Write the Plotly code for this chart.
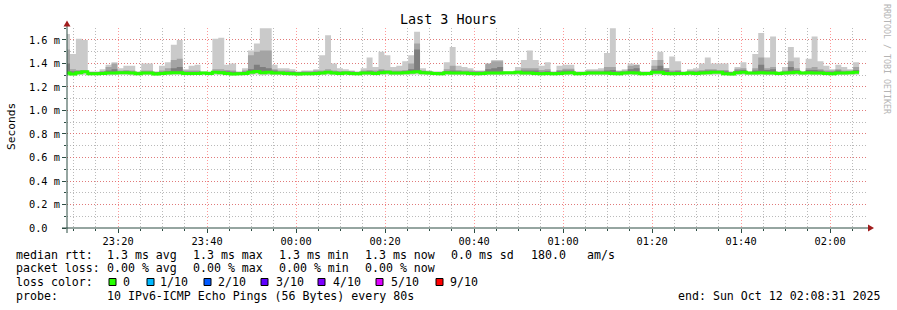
import plotly.graph_objects as go
import pandas as pd

# ---------------- data (ms) ----------------
top = [1.65, 1.48, 1.61, 1.60, 1.33, 1.33, 1.35, 1.39, 1.41, 1.36,
       1.38, 1.38, 1.33, 1.40, 1.40, 1.33, 1.38, 1.41, 1.56, 1.60,
       1.35, 1.38, 1.39, 1.33, 1.33, 1.61, 1.62, 1.39, 1.40, 1.33,
       1.36, 1.51, 1.57, 1.70, 1.70, 1.39, 1.36, 1.36, 1.35, 1.33,
       1.34, 1.34, 1.35, 1.47, 1.64, 1.40, 1.36, 1.35, 1.34, 1.33,
       1.36, 1.45, 1.37, 1.50, 1.47, 1.37, 1.38, 1.42, 1.47, 1.67,
       1.36, 1.34, 1.33, 1.33, 1.41, 1.54, 1.38, 1.37, 1.36, 1.34,
       1.34, 1.39, 1.43, 1.43, 1.33, 1.33, 1.37, 1.43, 1.51, 1.43,
       1.38, 1.41, 1.33, 1.38, 1.39, 1.39, 1.33, 1.33, 1.35, 1.35,
       1.36, 1.49, 1.70, 1.34, 1.35, 1.40, 1.39, 1.33, 1.33, 1.43,
       1.50, 1.36, 1.46, 1.42, 1.33, 1.35, 1.36, 1.40, 1.45, 1.40,
       1.40, 1.40, 1.33, 1.37, 1.41, 1.33, 1.48, 1.66, 1.45, 1.63,
       1.33, 1.37, 1.54, 1.45, 1.33, 1.44, 1.63, 1.42, 1.38, 1.35,
       1.39, 1.37, 1.35, 1.41]

p9 = [1.52, 1.35, 1.345, 1.345, 1.33, 1.33, 1.335, 1.37, 1.40, 1.34,
      1.345, 1.34, 1.33, 1.34, 1.34, 1.33, 1.34, 1.36, 1.43, 1.44,
      1.34, 1.34, 1.34, 1.33, 1.33, 1.35, 1.35, 1.345, 1.34, 1.33,
      1.34, 1.47, 1.50, 1.51, 1.51, 1.35, 1.34, 1.34, 1.335, 1.33,
      1.335, 1.335, 1.34, 1.34, 1.35, 1.34, 1.335, 1.335, 1.335, 1.33,
      1.34, 1.345, 1.34, 1.35, 1.345, 1.34, 1.34, 1.345, 1.40, 1.57,
      1.34, 1.335, 1.33, 1.33, 1.35, 1.38, 1.345, 1.34, 1.34, 1.335,
      1.335, 1.40, 1.42, 1.42, 1.33, 1.33, 1.34, 1.36, 1.36, 1.36,
      1.345, 1.35, 1.33, 1.345, 1.355, 1.355, 1.33, 1.33, 1.34, 1.34,
      1.34, 1.37, 1.37, 1.335, 1.34, 1.38, 1.39, 1.33, 1.33, 1.38,
      1.43, 1.36, 1.34, 1.345, 1.33, 1.34, 1.34, 1.345, 1.35, 1.35,
      1.345, 1.345, 1.33, 1.355, 1.36, 1.33, 1.36, 1.45, 1.36, 1.37,
      1.33, 1.34, 1.42, 1.36, 1.33, 1.36, 1.37, 1.35, 1.34, 1.34,
      1.35, 1.34, 1.34, 1.37]

p8 = [1.40, 1.335, 1.335, 1.335, 1.325, 1.325, 1.33, 1.34, 1.35, 1.33,
      1.335, 1.33, 1.325, 1.33, 1.33, 1.325, 1.33, 1.335, 1.36, 1.37,
      1.33, 1.33, 1.33, 1.325, 1.325, 1.335, 1.335, 1.335, 1.33, 1.325,
      1.33, 1.35, 1.39, 1.37, 1.36, 1.34, 1.33, 1.33, 1.33, 1.325,
      1.325, 1.325, 1.33, 1.33, 1.335, 1.33, 1.33, 1.33, 1.33, 1.325,
      1.33, 1.335, 1.33, 1.34, 1.335, 1.33, 1.33, 1.335, 1.35, 1.52,
      1.335, 1.33, 1.325, 1.325, 1.335, 1.34, 1.335, 1.33, 1.33, 1.33,
      1.33, 1.35, 1.36, 1.37, 1.325, 1.325, 1.33, 1.34, 1.34, 1.34,
      1.33, 1.335, 1.325, 1.335, 1.34, 1.34, 1.325, 1.325, 1.33, 1.33,
      1.33, 1.34, 1.345, 1.33, 1.33, 1.35, 1.36, 1.325, 1.325, 1.35,
      1.38, 1.345, 1.33, 1.335, 1.325, 1.33, 1.33, 1.335, 1.34, 1.34,
      1.335, 1.335, 1.325, 1.34, 1.345, 1.325, 1.34, 1.39, 1.345, 1.35,
      1.325, 1.33, 1.37, 1.345, 1.325, 1.345, 1.345, 1.34, 1.33, 1.33,
      1.34, 1.33, 1.33, 1.345]

median = [1.320, 1.310, 1.322, 1.330, 1.312, 1.312, 1.315, 1.318, 1.318, 1.322,
          1.322, 1.318, 1.312, 1.318, 1.318, 1.310, 1.315, 1.318, 1.322, 1.322,
          1.315, 1.315, 1.315, 1.318, 1.315, 1.325, 1.322, 1.315, 1.310, 1.312,
          1.315, 1.325, 1.332, 1.322, 1.325, 1.318, 1.318, 1.315, 1.312, 1.310,
          1.312, 1.312, 1.315, 1.320, 1.325, 1.318, 1.315, 1.318, 1.315, 1.312,
          1.320, 1.320, 1.315, 1.322, 1.325, 1.320, 1.318, 1.322, 1.325, 1.330,
          1.322, 1.318, 1.315, 1.312, 1.322, 1.318, 1.320, 1.318, 1.315, 1.312,
          1.315, 1.318, 1.318, 1.320, 1.322, 1.322, 1.325, 1.320, 1.318, 1.315,
          1.312, 1.315, 1.312, 1.315, 1.320, 1.322, 1.312, 1.315, 1.318, 1.320,
          1.318, 1.320, 1.315, 1.312, 1.318, 1.322, 1.320, 1.312, 1.315, 1.325,
          1.325, 1.315, 1.312, 1.315, 1.315, 1.318, 1.315, 1.320, 1.322, 1.325,
          1.325, 1.312, 1.310, 1.322, 1.325, 1.318, 1.318, 1.322, 1.320, 1.318,
          1.315, 1.318, 1.322, 1.325, 1.318, 1.322, 1.320, 1.318, 1.315, 1.312,
          1.318, 1.320, 1.322, 1.325]

low = [1.300, 1.298, 1.302, 1.305, 1.300, 1.300, 1.302, 1.300, 1.302, 1.305,
       1.304, 1.300, 1.299, 1.302, 1.302, 1.298, 1.300, 1.302, 1.304, 1.305,
       1.300, 1.300, 1.301, 1.302, 1.300, 1.305, 1.304, 1.300, 1.298, 1.299,
       1.300, 1.302, 1.306, 1.300, 1.302, 1.302, 1.302, 1.300, 1.299, 1.298,
       1.299, 1.299, 1.300, 1.302, 1.305, 1.302, 1.300, 1.302, 1.300, 1.299,
       1.302, 1.302, 1.300, 1.304, 1.305, 1.302, 1.302, 1.304, 1.305, 1.306,
       1.304, 1.302, 1.300, 1.299, 1.304, 1.302, 1.302, 1.302, 1.300, 1.299,
       1.300, 1.302, 1.302, 1.302, 1.304, 1.304, 1.305, 1.302, 1.302, 1.300,
       1.299, 1.300, 1.299, 1.300, 1.302, 1.304, 1.299, 1.300, 1.302, 1.302,
       1.302, 1.302, 1.300, 1.299, 1.302, 1.304, 1.302, 1.299, 1.300, 1.305,
       1.305, 1.300, 1.299, 1.300, 1.300, 1.302, 1.300, 1.302, 1.304, 1.305,
       1.305, 1.299, 1.298, 1.304, 1.305, 1.302, 1.302, 1.304, 1.302, 1.302,
       1.300, 1.302, 1.304, 1.305, 1.302, 1.304, 1.302, 1.302, 1.300, 1.299,
       1.302, 1.302, 1.304, 1.305]

y_ticks = [0.0, 0.2, 0.4, 0.6, 0.8, 1.0, 1.2, 1.4, 1.6]
y_ticktext = ["0.0\u00a0\u00a0", "0.2\u00a0m", "0.4\u00a0m", "0.6\u00a0m", "0.8\u00a0m",
              "1.0\u00a0m", "1.2\u00a0m", "1.4\u00a0m", "1.6\u00a0m"]

loss_labels = ["0", "1/10", "2/10", "3/10", "4/10", "5/10", "9/10"]
loss_colors = ["#26ff00", "#00b8ff", "#0059ff", "#5e00ff", "#7e00ff", "#dd00ff", "#ff0000"]

title_text = "Last 3 Hours"
step_start = pd.Timestamp("2025-10-11 23:07:51")
x_start = "2025-10-11 23:08:31"
x_end = "2025-10-12 02:08:31"

# ---------------- layout geometry ----------------
W, H = 897, 310
PL, PR, PT, PB = 67, 868, 28, 228
MONO = "DejaVu Sans Mono"


def px(x):
    return (x - PL) / (PR - PL)


def py(y):
    return (PB - y) / (PB - PT)


times = pd.date_range(step_start, periods=len(top) + 1, freq="80s")


def ext(v):
    return list(v) + [v[-1]]


fig = go.Figure()
for lo, hi, col in [(low, top, "#cacaca"), (median, p9, "#a4a4a4"), (median, p8, "#7e7e7e")]:
    fig.add_trace(go.Scatter(x=times, y=ext(lo), mode="lines",
                             line=dict(width=0, shape="hv"), hoverinfo="skip", showlegend=False))
    fig.add_trace(go.Scatter(x=times, y=ext(hi), mode="lines", fill="tonexty", fillcolor=col,
                             line=dict(width=0, shape="hv"), hoverinfo="skip", showlegend=False))
fig.add_trace(go.Scatter(x=times, y=ext(median), mode="lines",
                         line=dict(width=3, color="#26ff00", shape="hv"),
                         hoverinfo="skip", showlegend=False))

AX = "#2c4d43"
MAJ = "rgba(255,70,70,0.55)"
MIN = "rgba(140,140,140,0.6)"
DASH = "1px,2px"

fig.update_layout(
    width=W, height=H,
    margin=dict(l=PL, r=W - PR, t=PT, b=H - PB, pad=0),
    paper_bgcolor="white", plot_bgcolor="white",
    showlegend=False,
    xaxis=dict(type="date", range=[x_start, x_end],
               tick0="2025-10-11 23:20:00", dtick=20 * 60 * 1000, tickformat="%H:%M",
               showgrid=True, gridcolor=MAJ, griddash=DASH, gridwidth=1,
               ticks="outside", ticklen=4, tickcolor=AX,
               tickfont=dict(family=MONO, size=10.3, color="#000"),
               minor=dict(tick0="2025-10-11 23:10:00", dtick=5 * 60 * 1000, showgrid=True,
                          gridcolor=MIN, griddash=DASH, ticks="outside", ticklen=2, tickcolor=AX),
               showline=False, zeroline=False, fixedrange=True),
    yaxis=dict(range=[0, 1.702], tickmode="array", tickvals=y_ticks, ticktext=y_ticktext,
               showgrid=True, gridcolor=MAJ, griddash=DASH, gridwidth=1,
               ticks="outside", ticklen=4, tickcolor=AX,
               tickfont=dict(family=MONO, size=10.3, color="#000"),
               minor=dict(dtick=0.1, tick0=0, showgrid=True, gridcolor=MIN, griddash=DASH,
                          ticks="outside", ticklen=2, tickcolor=AX),
               showline=False, zeroline=False, fixedrange=True),
)

shapes = []
# axis lines
shapes.append(dict(type="line", xref="paper", yref="paper", x0=px(62), x1=px(869),
                   y0=py(228), y1=py(228), line=dict(color=AX, width=1)))
shapes.append(dict(type="line", xref="paper", yref="paper", x0=px(67), x1=px(67),
                   y0=py(233), y1=py(25), line=dict(color=AX, width=1)))
# arrows
ARW = "#a01c1c"
shapes.append(dict(type="path", xref="paper", yref="paper",
                   path=f"M {px(67)},{py(20.5)} L {px(63.5)},{py(26.5)} L {px(70.5)},{py(26.5)} Z",
                   fillcolor=ARW, line=dict(width=0)))
shapes.append(dict(type="path", xref="paper", yref="paper",
                   path=f"M {px(874)},{py(228)} L {px(868)},{py(224.5)} L {px(868)},{py(231.5)} Z",
                   fillcolor=ARW, line=dict(width=0)))

ann = []


def text(x, y, s, size=11.6, color="#000", anchor="left", angle=0, family=MONO):
    ann.append(dict(xref="paper", yref="paper", x=px(x), y=py(y), text=s, showarrow=False,
                    xanchor=anchor, yanchor="middle", textangle=angle,
                    font=dict(family=family, size=size, color=color),
                    borderpad=0, borderwidth=0))


text(448, 19, title_text, size=13.4, anchor="center")
text(11, 127, "Seconds", size=11.2, anchor="center", angle=-90)
text(887, 59, "RRDTOOL / TOBI OETIKER", size=8.3, color="#b4b4b4", anchor="center", angle=90)

row1 = [(16, "median rtt:"), (107, "1.3 ms avg"), (193, "1.3 ms max"), (279, "1.3 ms min"),
        (365, "1.3 ms now"), (451, "0.0 ms sd"), (531, "180.0"), (587, "am/s")]
row2 = [(16, "packet loss:"), (107, "0.00 % avg"), (193, "0.00 % max"), (279, "0.00 % min"),
        (365, "0.00 % now")]
for x, s in row1:
    text(x, 255, s)
for x, s in row2:
    text(x, 268, s)
text(16, 282, "loss color:")
sq_x = [109, 147, 204, 261, 318, 376, 436]
lab_x = [123, 160, 218, 276, 333, 391, 450]
for sx, lx, lab, col in zip(sq_x, lab_x, loss_labels, loss_colors):
    shapes.append(dict(type="rect", xref="paper", yref="paper",
                       x0=px(sx), x1=px(sx + 7), y0=py(285.5), y1=py(278.5),
                       fillcolor=col, line=dict(color="#000", width=1)))
    text(lx, 282, lab)
text(16, 296, "probe:")
text(107, 296, "10 IPv6-ICMP Echo Pings (56 Bytes) every 80s")
text(678, 296, "end: Sun Oct 12 02:08:31 2025")

fig.update_layout(shapes=shapes, annotations=ann)
fig.write_html("out.html")
